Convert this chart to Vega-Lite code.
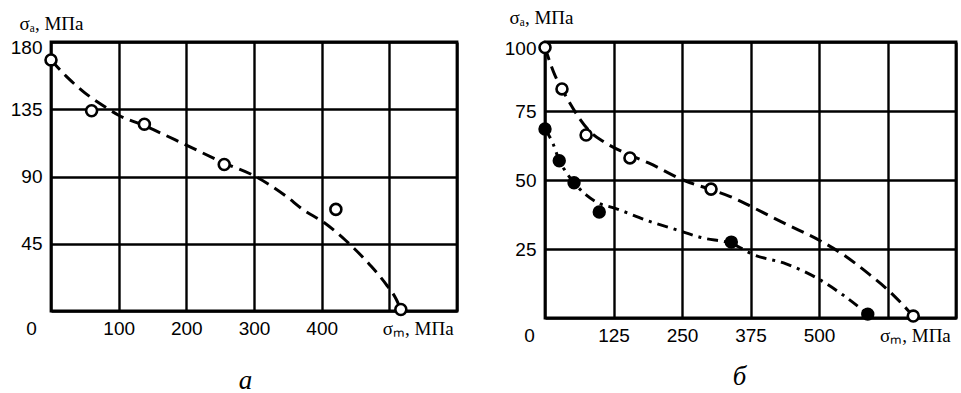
{
  "$schema": "https://vega.github.io/schema/vega-lite/v6.json",
  "padding": {"left": 8, "top": 6, "right": 5, "bottom": 5},
  "background": "white",
  "config": {
    "view": {"stroke": "black", "strokeWidth": 2.8},
    "axis": {
      "grid": true, "gridColor": "black", "gridWidth": 2.4, "gridOpacity": 1,
      "domain": false, "ticks": false,
      "labelFont": "Liberation Sans", "labelFontSize": 19, "labelColor": "black",
      "titleColor": "black", "titleFontWeight": "normal"
    }
  },
  "datasets": {
    "a_curve": [
      {"x": 0, "y": 168}, {"x": 25, "y": 156}, {"x": 50, "y": 146}, {"x": 75, "y": 138},
      {"x": 100, "y": 131}, {"x": 138, "y": 124}, {"x": 200, "y": 111}, {"x": 256, "y": 99},
      {"x": 298, "y": 91}, {"x": 347, "y": 77}, {"x": 372, "y": 68}, {"x": 404, "y": 59},
      {"x": 436, "y": 47}, {"x": 471, "y": 31}, {"x": 495, "y": 18}, {"x": 510, "y": 8},
      {"x": 517, "y": 1}
    ],
    "a_pts": [
      {"x": 0, "y": 168}, {"x": 60, "y": 134}, {"x": 138, "y": 125},
      {"x": 256, "y": 98}, {"x": 421, "y": 68}, {"x": 517, "y": 1}
    ],
    "b_open_curve": [
      {"x": 0, "y": 98}, {"x": 18, "y": 88}, {"x": 31, "y": 83}, {"x": 45, "y": 78},
      {"x": 64, "y": 72}, {"x": 85, "y": 67}, {"x": 106, "y": 64}, {"x": 155, "y": 59},
      {"x": 191, "y": 56}, {"x": 252, "y": 50}, {"x": 303, "y": 46.5}, {"x": 338, "y": 44},
      {"x": 380, "y": 40}, {"x": 440, "y": 34}, {"x": 502, "y": 28}, {"x": 544, "y": 23},
      {"x": 593, "y": 15.6}, {"x": 630, "y": 9.4}, {"x": 666, "y": 2}, {"x": 672, "y": 0.7}
    ],
    "b_filled_curve": [
      {"x": 0, "y": 68.5}, {"x": 15, "y": 63}, {"x": 26, "y": 57}, {"x": 38, "y": 53},
      {"x": 53, "y": 49}, {"x": 75, "y": 44.6}, {"x": 99, "y": 41.5}, {"x": 124, "y": 40},
      {"x": 191, "y": 35}, {"x": 239, "y": 32}, {"x": 288, "y": 29}, {"x": 340, "y": 27},
      {"x": 380, "y": 23}, {"x": 440, "y": 19.6}, {"x": 502, "y": 13.8}, {"x": 544, "y": 8.3},
      {"x": 589, "y": 1.4}
    ],
    "b_open_pts": [
      {"x": 0, "y": 98}, {"x": 31, "y": 83}, {"x": 75, "y": 66.3},
      {"x": 155, "y": 58}, {"x": 303, "y": 46.7}, {"x": 672, "y": 0.7}
    ],
    "b_filled_pts": [
      {"x": 0, "y": 68.5}, {"x": 26, "y": 57}, {"x": 53, "y": 49},
      {"x": 99, "y": 38.4}, {"x": 340, "y": 27.5}, {"x": 589, "y": 1.4}
    ]
  },
  "hconcat": [
    {
      "width": 406, "height": 269,
      "encoding": {
        "x": {
          "field": "x", "type": "quantitative",
          "scale": {"domain": [0, 600], "nice": false, "zero": false},
          "axis": {
            "values": [0, 100, 200, 300, 400, 500, 600],
            "labelExpr": "datum.value == 500 ? 'σₘ, МПа' : datum.value == 600 ? '' : datum.label",
            "labelPadding": 8,
            "labelOffset": {"condition": [{"test": "datum.value == 0", "value": -20}, {"test": "datum.value == 500", "value": -7}], "value": 0},
            "labelAlign": {"condition": {"test": "datum.value == 500", "value": "left"}, "value": "center"},
            "labelFont": {"condition": {"test": "datum.value == 500", "value": "Liberation Serif"}, "value": "Liberation Sans"},
            "labelFontSize": 19,
            "title": "а", "titleFont": "Liberation Serif", "titleFontStyle": "italic",
            "titleFontSize": 27, "titlePadding": 29, "titleX": 194
          }
        },
        "y": {
          "field": "y", "type": "quantitative",
          "scale": {"domain": [0, 180], "nice": false, "zero": false},
          "axis": {
            "values": [0, 45, 90, 135, 180],
            "labelExpr": "datum.value == 0 ? '' : datum.label",
            "labelPadding": 9,
            "labelBaseline": {"condition": {"test": "datum.value == 180", "value": "top"}, "value": "middle"},
            "labelOffset": {"condition": {"test": "datum.value == 180", "value": -4}, "value": 0},
            "title": "σₐ, МПа", "titleAngle": 0, "titleAlign": "left", "titleBaseline": "alphabetic",
            "titleX": -32, "titleY": -13, "titleFont": "Liberation Serif", "titleFontSize": 19
          }
        }
      },
      "layer": [
        {"data": {"name": "a_curve"},
         "mark": {"type": "line", "interpolate": "monotone", "stroke": "black", "strokeWidth": 3, "strokeDash": [13, 7]}},
        {"data": {"name": "a_pts"},
         "mark": {"type": "point", "shape": "circle", "filled": true, "fill": "white", "stroke": "black", "strokeWidth": 2.6, "size": 120, "opacity": 1}}
      ]
    },
    {
      "width": 411, "height": 276,
      "encoding": {
        "x": {
          "field": "x", "type": "quantitative",
          "scale": {"domain": [0, 750], "nice": false, "zero": false},
          "axis": {
            "values": [0, 125, 250, 375, 500, 625, 750],
            "labelExpr": "datum.value == 625 ? 'σₘ, МПа' : datum.value == 750 ? '' : datum.label",
            "labelPadding": 8,
            "labelOffset": {"condition": [{"test": "datum.value == 0", "value": -16}, {"test": "datum.value == 625", "value": -8}], "value": 0},
            "labelAlign": {"condition": {"test": "datum.value == 625", "value": "left"}, "value": "center"},
            "labelFont": {"condition": {"test": "datum.value == 625", "value": "Liberation Serif"}, "value": "Liberation Sans"},
            "labelFontSize": 19,
            "title": "б", "titleFont": "Liberation Serif", "titleFontStyle": "italic",
            "titleFontSize": 27, "titlePadding": 18, "titleX": 194
          }
        },
        "y": {
          "field": "y", "type": "quantitative",
          "scale": {"domain": [0, 100], "nice": false, "zero": false},
          "axis": {
            "values": [0, 25, 50, 75, 100],
            "labelExpr": "datum.value == 0 ? '' : datum.label",
            "labelPadding": 9,
            "labelBaseline": {"condition": {"test": "datum.value == 100", "value": "top"}, "value": "middle"},
            "labelOffset": {"condition": {"test": "datum.value == 100", "value": -3}, "value": 0},
            "title": "σₐ, МПа", "titleAngle": 0, "titleAlign": "left", "titleBaseline": "alphabetic",
            "titleX": -36, "titleY": -19, "titleFont": "Liberation Serif", "titleFontSize": 19
          }
        }
      },
      "layer": [
        {"data": {"name": "b_open_curve"},
         "mark": {"type": "line", "interpolate": "monotone", "stroke": "black", "strokeWidth": 3, "strokeDash": [13, 7]}},
        {"data": {"name": "b_filled_curve"},
         "mark": {"type": "line", "interpolate": "monotone", "stroke": "black", "strokeWidth": 3, "strokeDash": [11, 6, 3, 6]}},
        {"data": {"name": "b_open_pts"},
         "mark": {"type": "point", "shape": "circle", "filled": true, "fill": "white", "stroke": "black", "strokeWidth": 2.6, "size": 120, "opacity": 1}},
        {"data": {"name": "b_filled_pts"},
         "mark": {"type": "point", "shape": "circle", "filled": true, "fill": "black", "stroke": "black", "strokeWidth": 2, "size": 130, "opacity": 1}}
      ]
    }
  ],
  "spacing": 43
}
